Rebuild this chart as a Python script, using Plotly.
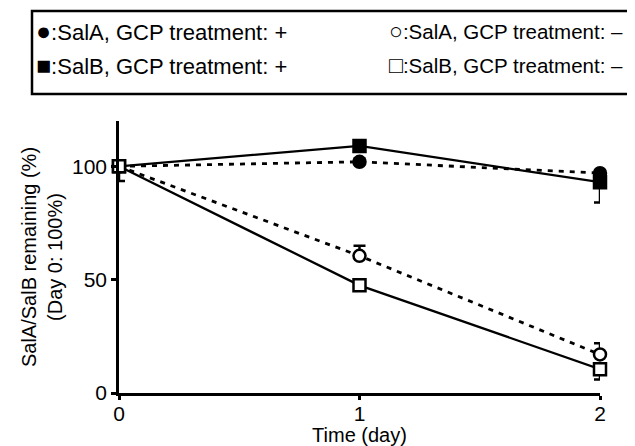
import plotly.graph_objects as go

days = [0, 1, 2]
sala_plus = [100, 102, 97]
sala_plus_err_up = [0, 1.5, 1]
sala_plus_err_down = [0, 0, 0]
salb_plus = [100, 109, 93]
salb_plus_err_up = [0, 1.5, 0]
salb_plus_err_down = [0, 0, 9]
sala_minus = [100, 60.5, 17]
sala_minus_err_up = [0, 4.5, 5]
sala_minus_err_down = [0, 0, 0]
salb_minus = [100, 47.5, 10.5]
salb_minus_err_up = [0, 0, 0]
salb_minus_err_down = [6.5, 1, 4.5]

x_ticks = [0, 1, 2]
y_ticks = [0, 50, 100]

legend_glyphs = [("\u25CF", "\u25CB"), ("\u25A0", "\u25A1")]
legend_labels = [(":SalA, GCP treatment: +", ":SalA, GCP treatment: \u2013"),
                 (":SalB, GCP treatment: +", ":SalB, GCP treatment: \u2013")]

FONT = "Liberation Sans, Arial, sans-serif"
OFF = 8  # page body margin of the browser
W, H = 635 - OFF, 446 - OFF
# plot area in screen pixels: x 119..600, y 121..393
L, R, T, B = 119 - OFF, 635 - 600, 121 - OFF, 446 - 393
PW, PH = W - L - R, H - T - B


def px_x(p):
    return (p - OFF - L) / PW


def px_y(p):
    return (H - B - (p - OFF)) / PH


series = [
    (sala_plus, sala_plus_err_up, sala_plus_err_down, "5px,6px", "circle", "black"),
    (salb_plus, salb_plus_err_up, salb_plus_err_down, "solid", "square", "black"),
    (sala_minus, sala_minus_err_up, sala_minus_err_down, "5px,6px", "circle", "white"),
    (salb_minus, salb_minus_err_up, salb_minus_err_down, "solid", "square", "white"),
]

fig = go.Figure()
for y, up, dn, dash, sym, fill in series:
    fig.add_trace(go.Scatter(
        x=days, y=y, mode="lines", showlegend=False,
        line=dict(color="black", width=2.8 if dash != "solid" else 2.3, dash=dash),
        cliponaxis=False, hoverinfo="skip"))
for y, up, dn, dash, sym, fill in series:
    fig.add_trace(go.Scatter(
        x=days, y=y, mode="markers", showlegend=False,
        marker=dict(symbol=sym, size=12, color=fill, line=dict(color="black", width=2.5)),
        error_y=dict(type="data", symmetric=False, array=up, arrayminus=dn, visible=True,
                     color="black", thickness=2.5, width=6),
        cliponaxis=False))

annotations = []
col_x = (34, 387)
col_size = (22, 20.5)
for r in range(2):
    ypx = 31 + r * 34
    for c in range(2):
        txt = ('<span style="font-size:%dpx"><b>%s</b></span>%s'
               % (col_size[c] + 3, legend_glyphs[r][c], legend_labels[r][c]))
        annotations.append(dict(
            text=txt, xref="paper", yref="paper", x=px_x(col_x[c]), y=px_y(ypx),
            xanchor="left", yanchor="middle", showarrow=False,
            font=dict(size=col_size[c], family=FONT, color="black")))

fig.update_layout(
    width=W, height=H,
    margin=dict(l=L, r=R, t=T, b=B, autoexpand=False),
    paper_bgcolor="white", plot_bgcolor="white",
    font=dict(family=FONT, size=21, color="black"),
    showlegend=False,
    xaxis=dict(range=[0, 2], tickvals=x_ticks, ticktext=[str(v) for v in x_ticks],
               showgrid=False, zeroline=False, showline=True, linecolor="black", linewidth=2.5,
               ticks="outside", ticklen=4, tickwidth=2.5, tickcolor="black",
               tickfont=dict(size=21), automargin=False, ticklabelstandoff=-4,
               title=dict(text="Time (day)", font=dict(size=20), standoff=4)),
    yaxis=dict(range=[0, 120], tickvals=y_ticks, ticktext=[str(v) for v in y_ticks],
               showgrid=False, zeroline=False, showline=True, linecolor="black", linewidth=2.5,
               ticks="outside", ticklen=5, tickwidth=2.5, tickcolor="black",
               tickfont=dict(size=21), automargin=False,
               title=dict(text="SalA/SalB remaining (%)<br>(Day 0: 100%)", font=dict(size=20),
                          standoff=5)),
    annotations=annotations,
    shapes=[dict(type="rect", xref="paper", yref="paper",
                 x0=px_x(32), x1=px_x(634), y0=px_y(94), y1=px_y(11),
                 line=dict(color="black", width=2.5))],
)

fig.write_html("out.html")
